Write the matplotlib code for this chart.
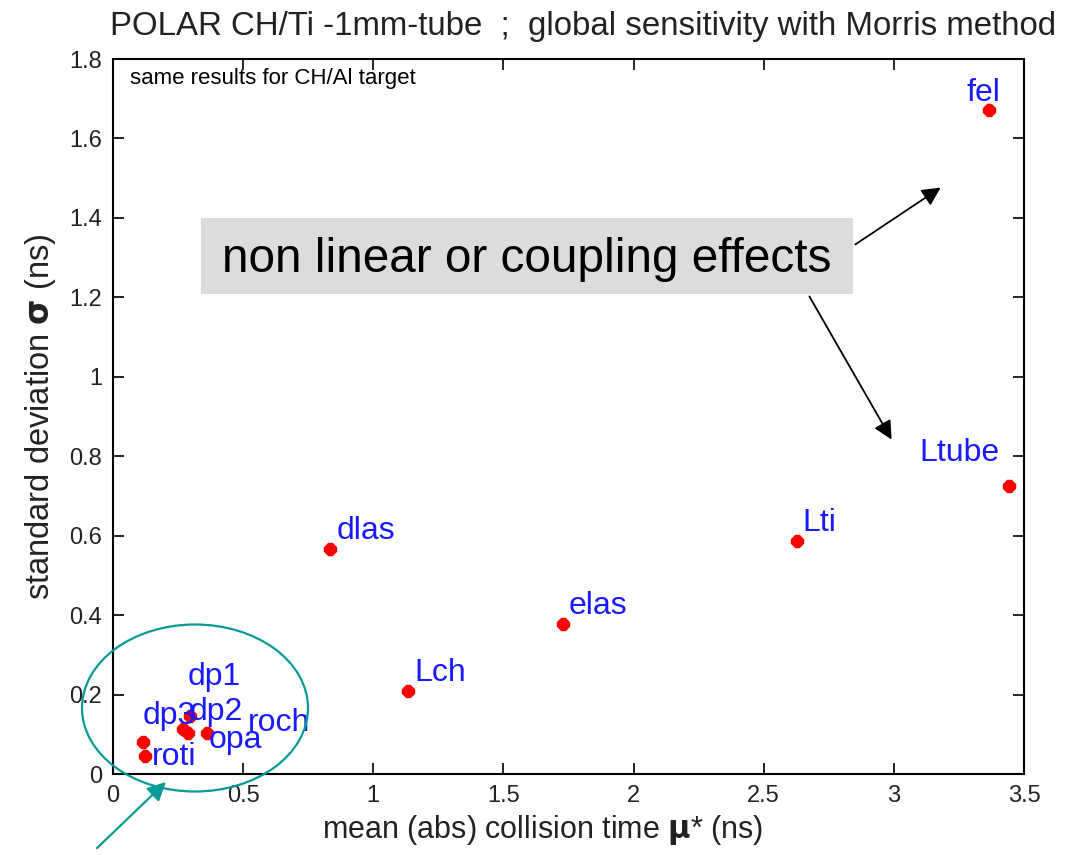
import matplotlib
matplotlib.use("Agg")
from matplotlib import pyplot as plt
from matplotlib.patches import Ellipse, Rectangle

plt.rcParams['font.family'] = ['Liberation Sans', 'DejaVu Sans']
plt.rcParams['mathtext.fontset'] = 'custom'
plt.rcParams['mathtext.rm'] = 'Liberation Sans'
plt.rcParams['mathtext.bf'] = 'DejaVu Sans:bold'

# Morris screening results
params = ['fel', 'Ltube', 'Lti', 'dlas', 'elas', 'Lch',
          'dp1', 'roch', 'dp2', 'opa', 'dp3', 'roti']
mu_star = [3.365, 3.442, 2.627, 0.835, 1.727, 1.133,
           0.296, 0.269, 0.288, 0.362, 0.115, 0.123]
sigma = [1.672, 0.725, 0.587, 0.567, 0.378, 0.209,
         0.146, 0.113, 0.103, 0.103, 0.081, 0.045]

# label offsets in pixels (placed by hand like the original)
label_off = {'fel': (-22, 17), 'Ltube': (-90, 33), 'Lti': (6, 18), 'dlas': (6, 18),
             'elas': (6, 18), 'Lch': (6, 18), 'dp1': (-2, 39), 'roch': (65, 6),
             'dp2': (2, 21), 'opa': (1, -7), 'dp3': (0, 26), 'roti': (7, -1)}

fig = plt.figure(figsize=(10.72, 8.55), dpi=100)
ax = fig.add_axes([113/1072, 1-774/855, (1024-113)/1072, (774-59)/855])

ax.plot(mu_star, sigma, linestyle='none', marker='8', markersize=9,
        color='red', markeredgecolor='red', zorder=3)
for name, x, y in zip(params, mu_star, sigma):
    ax.annotate(name, (x, y), xytext=label_off[name], textcoords='offset pixels',
                ha='left', va='center', fontsize=23, color='#1a1aff', zorder=4)

ax.set_xlim(0, 3.5)
ax.set_ylim(0, 1.8)
ax.set_xticks([0, 0.5, 1, 1.5, 2, 2.5, 3, 3.5])
ax.set_xticklabels(['0', '0.5', '1', '1.5', '2', '2.5', '3', '3.5'])
ax.set_yticks([0, 0.2, 0.4, 0.6, 0.8, 1, 1.2, 1.4, 1.6, 1.8])
ax.set_yticklabels(['0', '0.2', '0.4', '0.6', '0.8', '1', '1.2', '1.4', '1.6', '1.8'])
ax.tick_params(direction='in', top=True, right=True, length=8, width=1.2,
               labelsize=17, pad=8, labelcolor='#222222')
for s in ax.spines.values():
    s.set_linewidth(1.5)

ax.set_xlabel(r'mean (abs) collision time $\mathbf{\mu}$* (ns)', fontsize=22,
              color='#222222')
ax.xaxis.set_label_coords((543-113)/911, -0.055)
ax.set_ylabel(r'standard deviation $\mathbf{\sigma}$ (ns)', fontsize=23.5, labelpad=8,
              color='#222222')
fig.text(0.544, 1-26/855, 'POLAR CH/Ti -1mm-tube  ;  global sensitivity with Morris method',
         ha='center', va='center', fontsize=23.8, color='#222222')
ax.text(130/1072, 1-78/855, 'same results for CH/Al target', transform=fig.transFigure,
        ha='left', va='center', fontsize=16)

# grey call-out box with arrows
fig.add_artist(Rectangle((201/1072, 1-294/855), (853-201)/1072, (294-218)/855,
                         transform=fig.transFigure, facecolor='#dcdcdc', edgecolor='none'))
fig.text(527/1072, 1-260/855, 'non linear or coupling effects', ha='center', va='center',
         fontsize=34.4)
arr = dict(arrowstyle='-|>', color='black', lw=1.3, mutation_scale=28)
ax.annotate('', xy=(943/1072, 1-186/855), xytext=(853/1072, 1-246/855),
            xycoords='figure fraction', textcoords='figure fraction', arrowprops=arr)
ax.annotate('', xy=(893/1072, 1-442/855), xytext=(808/1072, 1-294/855),
            xycoords='figure fraction', textcoords='figure fraction', arrowprops=arr)

# teal ellipse around the cluster of weak parameters
teal = '#0a9a96'
fig.add_artist(Ellipse((195/1072, 1-708/855), 226/1072, 167/855, transform=fig.transFigure,
                       facecolor='none', edgecolor=teal, lw=1.6))
ax.annotate('', xy=(168/1072, 1-780/855), xytext=(95/1072, 1-850/855),
            xycoords='figure fraction', textcoords='figure fraction',
            arrowprops=dict(arrowstyle='-|>', color=teal, lw=1.6, mutation_scale=28))

fig.savefig('out.png', dpi=100)
